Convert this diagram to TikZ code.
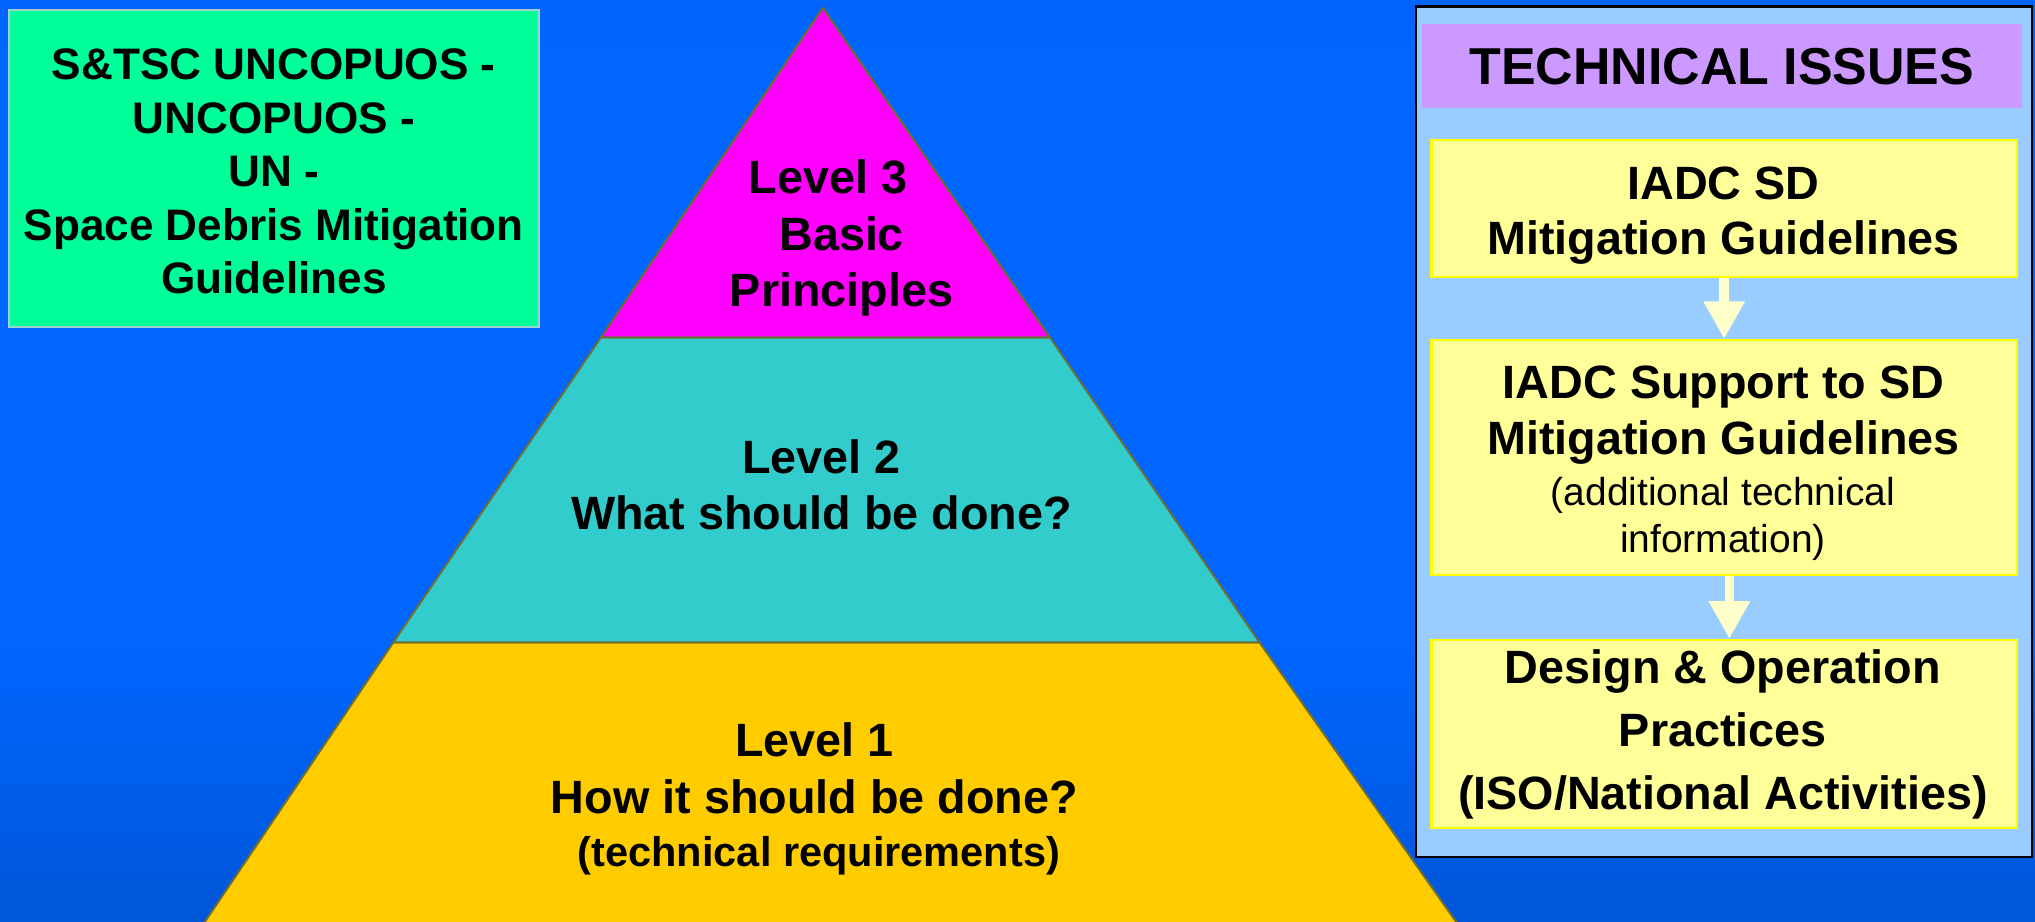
\documentclass[tikz,border=0pt]{standalone}
\usepackage{fontspec}
\setmainfont{Liberation Sans}
\usetikzlibrary{arrows.meta}
\definecolor{bgtop}{RGB}{0,85,215}
\definecolor{bgmid}{RGB}{0,102,255}
\definecolor{bgbot}{RGB}{0,58,150}
\definecolor{greenbox}{RGB}{0,255,153}
\definecolor{greenedge}{RGB}{160,210,210}
\definecolor{magentaL}{RGB}{255,0,255}
\definecolor{tealL}{RGB}{51,204,204}
\definecolor{yellowL}{RGB}{255,204,0}
\definecolor{pyredge}{RGB}{110,110,50}
\definecolor{panelblue}{RGB}{153,204,255}
\definecolor{purplebox}{RGB}{204,153,255}
\definecolor{paleyellow}{RGB}{255,255,153}
\definecolor{yellowedge}{RGB}{255,255,0}
\definecolor{arrowfill}{RGB}{255,255,204}
\pgfdeclareverticalshading{bgshade}{100bp}{color(0bp)=(bgbot); color(40bp)=(bgmid); color(72bp)=(bgmid); color(100bp)=(bgtop)}
\begin{document}
\begin{tikzpicture}[x=0.5pt,y=-0.5pt,
  txt/.style={align=center, inner sep=0pt, text=black},
  layer/.style={draw=pyredge, line width=0.77pt, line join=round},
  ybox/.style={draw=yellowedge, line width=0.8pt, fill=paleyellow, minimum width=225.5pt, inner sep=0pt},
  flowarrow/.style={draw=arrowfill, line width=3.75pt, -{Triangle[width=15pt,length=14.5pt]}},
]
% background
\shade[shading=bgshade] (0,0) rectangle (1568,710);
\useasboundingbox (0,0) rectangle (1568,710);

% pyramid
\coordinate (apex) at (634,6);
\coordinate (l3) at (463,260);
\coordinate (r3) at (809,260);
\coordinate (l2) at (303,495);
\coordinate (r2) at (970.5,495);
\coordinate (l1) at (151.3,720);
\coordinate (r1) at (1128.8,720);
\begin{scope}
\clip (0,0) rectangle (1568,710);
\filldraw[layer, fill=yellowL] (l2) -- (r2) -- (r1) -- (l1) -- cycle;
\filldraw[layer, fill=tealL] (l3) -- (r3) -- (r2) -- (l2) -- cycle;
\filldraw[layer, fill=magentaL] (apex) -- (r3) -- (l3) -- cycle;
\end{scope}

\node[txt, font=\fontsize{18}{21.9}\selectfont\bfseries] (lv3) at (648.5,183.4)
  {Level 3\kern10.5pt\\Basic\\Principles};
\node[txt, font=\fontsize{18}{21.5}\selectfont\bfseries] (lv2) at (633,373.3)
  {Level 2\\What should be done?};
\node[txt, font=\fontsize{18}{22}\selectfont\bfseries] (lv1) at (627.5,591.8)
  {Level 1\\How it should be done?};
\node[txt, font=\fontsize{16}{19}\selectfont\bfseries] (lv1b) at (631,659.2)
  {(technical requirements)};

% green box
\node[draw=greenedge, line width=0.75pt, fill=greenbox, minimum width=204pt,
      minimum height=122.15pt, inner sep=0pt] (gbox) at (211,129.85) {};
\node[txt, font=\fontsize{17}{20.6}\selectfont\bfseries] (gtxt) at (211,132.3)
  {S\&TSC UNCOPUOS -\\UNCOPUOS -\\UN -\\Space Debris Mitigation\\Guidelines};

% right panel
\node[draw=black, line width=0.8pt, fill=panelblue, minimum width=237.25pt,
      minimum height=327.5pt, inner sep=0pt] (panel) at (1328.25,332.5) {};
\node[fill=purplebox, minimum width=231.25pt, minimum height=32.5pt, inner sep=0pt,
      font=\fontsize{20}{24}\selectfont\bfseries] (title) at (1326.75,51) {TECHNICAL ISSUES};
\node[ybox, minimum height=52.75pt] (b1) at (1328.5,160.75) {};
\node[ybox, minimum height=90.5pt] (b2) at (1328.5,352.5) {};
\node[ybox, minimum height=72.5pt] (b3) at (1328.5,565.5) {};

\node[txt, font=\fontsize{18}{21.5}\selectfont\bfseries] (t1) at (1328,166.1)
  {IADC SD\\Mitigation Guidelines};
\node[txt, font=\fontsize{18}{21.5}\selectfont\bfseries] (t2) at (1328,320.1)
  {IADC Support to SD\\Mitigation Guidelines};
\node[txt, font=\fontsize{15}{18}\selectfont] (t2b) at (1327.5,400)
  {(additional technical\\information)};
\node[txt, font=\fontsize{18}{24.25}\selectfont\bfseries] (t3) at (1327.5,566.1)
  {Design \& Operation\\Practices\\(ISO/National Activities)};

\draw[flowarrow] (b1.south) -- (b2.north);
\draw[flowarrow] ([xshift=2pt]b2.south) -- ([xshift=2pt]b3.north);
\end{tikzpicture}
\end{document}
